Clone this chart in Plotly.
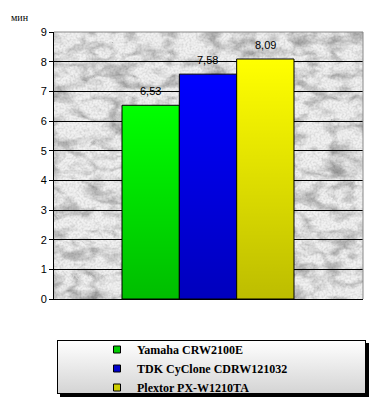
import base64
import plotly.graph_objects as go

names = ["Yamaha CRW2100E", "TDK CyClone CDRW121032", "Plextor PX-W1210TA"]
values = [6.53, 7.58, 8.09]
bar_colors = ["#00FF00", "#0000FF", "#FFFF00"]
legend_colors = ["#00CC00", "#0000CC", "#CCCC00"]
unit_label = "мин"
y_ticks = [0, 1, 2, 3, 4, 5, 6, 7, 8, 9]

W, H = 379, 412
L, R, T, B = 54, 16, 32, 113
PW, PH = W - L - R, H - T - B
BAR_W = 1.0


def svg_uri(svg):
    return "data:image/svg+xml;base64," + base64.b64encode(svg.encode("utf-8")).decode("ascii")


marble = svg_uri(
    f"<svg xmlns='http://www.w3.org/2000/svg' width='{PW}' height='{PH}'>"
    "<filter id='v' x='0' y='0' width='100%' height='100%'>"
    "<feTurbulence type='turbulence' baseFrequency='0.025 0.045' numOctaves='3' seed='4'/>"
    "<feColorMatrix type='matrix' values='0 0 0 0 0  0 0 0 0 0  0 0 0 0 0  -3.2 0 0 0 0.85'/>"
    "</filter>"
    "<filter id='n' x='0' y='0' width='100%' height='100%'>"
    "<feTurbulence type='fractalNoise' baseFrequency='0.5' numOctaves='2' seed='9'/>"
    "<feColorMatrix type='matrix' values='0 0 0 0 0  0 0 0 0 0  0 0 0 0 0  1.6 0 0 0 -0.6'/>"
    "</filter>"
    "<filter id='c' x='0' y='0' width='100%' height='100%'>"
    "<feTurbulence type='fractalNoise' baseFrequency='0.04 0.07' numOctaves='4' seed='21'/>"
    "<feColorMatrix type='matrix' values='0 0 0 0 0  0 0 0 0 0  0 0 0 0 0  2.2 0 0 0 -1.05'/>"
    "</filter>"
    f"<rect width='{PW}' height='{PH}' fill='#f1f1f1'/>"
    f"<rect width='{PW}' height='{PH}' fill='#666' filter='url(#c)' opacity='0.3'/>"
    f"<rect width='{PW}' height='{PH}' fill='#777' filter='url(#v)' opacity='0.25'/>"
    f"<rect width='{PW}' height='{PH}' fill='#888' filter='url(#n)' opacity='0.15'/></svg>"
)

shade = svg_uri(
    "<svg xmlns='http://www.w3.org/2000/svg' width='10' height='100' preserveAspectRatio='none'>"
    "<defs><linearGradient id='g' x1='0' y1='0' x2='0' y2='1'>"
    "<stop offset='0' stop-color='#000' stop-opacity='0'/>"
    "<stop offset='1' stop-color='#000' stop-opacity='0.26'/></linearGradient></defs>"
    "<rect width='10' height='100' fill='url(#g)'/></svg>"
)

LW, LH = 312, 57
legend_bg = svg_uri(
    f"<svg xmlns='http://www.w3.org/2000/svg' width='{LW}' height='{LH}'>"
    "<defs><linearGradient id='g' x1='0' y1='0' x2='0' y2='1'>"
    "<stop offset='0' stop-color='#ffffff'/><stop offset='1' stop-color='#d4d4d4'/></linearGradient></defs>"
    f"<rect x='3' y='3' width='{LW-3}' height='{LH-3}' fill='#000'/>"
    f"<rect x='0.5' y='0.5' width='{LW-4}' height='{LH-4}' fill='url(#g)' stroke='#000' stroke-width='1'/></svg>"
)

fig = go.Figure()
xs = list(range(len(values)))
for i, (n, v, c) in enumerate(zip(names, values, bar_colors)):
    fig.add_trace(go.Bar(x=[xs[i]], y=[v], width=BAR_W, marker=dict(color=c, line=dict(color="black", width=1)),
                         showlegend=False, name=n, hoverinfo="skip"))
for n, lc in zip(names, legend_colors):
    fig.add_trace(go.Scatter(x=[None], y=[None], mode="markers", name=n,
                             marker=dict(symbol="square", size=7, color=lc, line=dict(color="black", width=1))))

images = [dict(source=marble, xref="x domain", yref="y domain", x=0, y=1, sizex=1, sizey=1,
               sizing="stretch", layer="below", xanchor="left", yanchor="top")]
for i, v in enumerate(values):
    images.append(dict(source=shade, xref="x", yref="y", x=xs[i] - BAR_W / 2, y=v, sizex=BAR_W, sizey=v,
                       sizing="stretch", layer="above", xanchor="left", yanchor="top"))
lx0, ly0 = 57, 340
images.append(dict(source=legend_bg, xref="paper", yref="paper",
                   x=(lx0 - L) / PW, y=(H - B - ly0) / PH, sizex=LW / PW, sizey=LH / PH,
                   sizing="stretch", layer="above", xanchor="left", yanchor="top"))

annotations = [dict(x=xs[i], y=v, xref="x", yref="y", text=f"{v:.2f}".replace(".", ","),
                    showarrow=False, yanchor="bottom", yshift=6,
                    font=dict(family="Liberation Sans, Arial", size=11, color="black"))
               for i, v in enumerate(values)]
annotations.append(dict(xref="paper", yref="paper", x=(20 - L) / PW, y=(H - B - 17) / PH,
                        xanchor="center", yanchor="middle", text=unit_label, showarrow=False,
                        font=dict(family="Liberation Serif, Times New Roman", size=10, color="black")))

xmin = -BAR_W / 2 - 68 / 57.33
xmax = xmin + PW / 57.33

fig.update_layout(
    width=W, height=H, margin=dict(l=L, r=R, t=T, b=B, pad=0, autoexpand=False),
    paper_bgcolor="white", plot_bgcolor="#eeeeee",
    barmode="overlay",
    images=images, annotations=annotations,
    shapes=[
        dict(type="line", xref="x domain", yref="y domain", x0=0, x1=1, y0=1, y1=1, line=dict(color="#888", width=1), layer="above"),
        dict(type="line", xref="x domain", yref="y domain", x0=1, x1=1, y0=0, y1=1, line=dict(color="#888", width=1), layer="above"),
    ],
    xaxis=dict(range=[xmin, xmax], showticklabels=False, showgrid=False, zeroline=False,
               showline=True, linecolor="black", linewidth=1, ticks="", fixedrange=True),
    yaxis=dict(range=[0, 9], tickvals=y_ticks, showgrid=True, gridcolor="black", gridwidth=1,
               zeroline=False, showline=True, linecolor="black", linewidth=1,
               ticks="outside", ticklen=4, tickcolor="black",
               tickfont=dict(family="Liberation Sans, Arial", size=11, color="black")),
    showlegend=True,
    legend=dict(x=(97 - L) / PW, y=(H - B - 335) / PH, xanchor="left", yanchor="top",
                bgcolor="rgba(0,0,0,0)", borderwidth=0, itemwidth=30,
                font=dict(family="Liberation Serif, Times New Roman", size=12, color="black", weight="bold"),
                itemclick=False, itemdoubleclick=False),
)

fig.write_html("out.html")
